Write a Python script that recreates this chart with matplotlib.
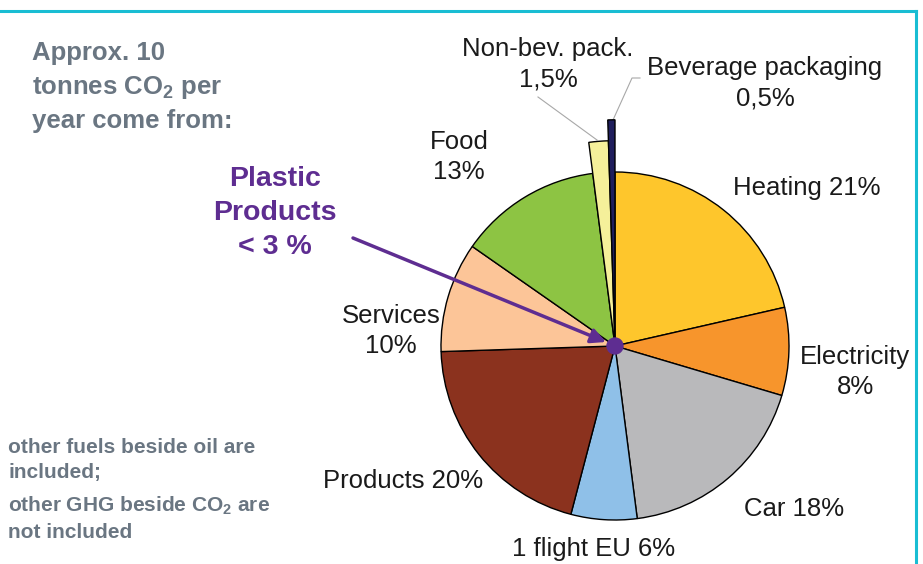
import matplotlib
matplotlib.use('Agg')
import matplotlib.pyplot as plt
from matplotlib.patches import Circle

# ---- data ----
categories = ['Heating', 'Electricity', 'Car', '1 flight EU', 'Products',
              'Services', 'Food', 'Non-bev. pack.', 'Beverage packaging']
values = [21, 8, 18, 6, 20, 10, 13, 1.5, 0.5]
value_labels = ['21%', '8%', '18%', '6%', '20%', '10%', '13%', '1,5%', '0,5%']
colors = ['#FEC62C', '#F7952C', '#B9B9BB', '#8FC0E8', '#8B321E',
          '#FCC598', '#8DC443', '#F5F09A', '#1F1E5C']

plt.rcParams['font.family'] = ['Liberation Sans', 'DejaVu Sans']
plt.rcParams['mathtext.fontset'] = 'custom'
plt.rcParams['mathtext.rm'] = 'Liberation Sans:bold'
plt.rcParams['mathtext.bf'] = 'Liberation Sans:bold'

W, H = 923, 564
fig = plt.figure(figsize=(W / 100, H / 100), dpi=100)
ax = fig.add_axes([0, 0, 1, 1])

def Y(py):
    return H - py

cx, cy, R = 615, Y(346), 174

wedges, _ = ax.pie(values, startangle=90, counterclock=False, center=(cx, cy),
                   radius=R, colors=colors,
                   wedgeprops=dict(edgecolor='black', linewidth=1.0))
wedges[7].set_radius(R * 1.18)
wedges[8].set_radius(R * 1.30)
wedges[7].set_zorder(3)
wedges[8].set_zorder(3)

ax.set_xlim(0, W)
ax.set_ylim(0, H)
ax.set_aspect('auto')
ax.axis('off')

lab_fs = 18.5
txt_col = '#1a1a1a'
lab_pos = {
    'Heating': (807, 188, 'Heating 21%'),
    'Electricity': (855, 372, 'Electricity\n8%'),
    'Car': (794, 509, 'Car 18%'),
    '1 flight EU': (594, 549, '1 flight EU 6%'),
    'Products': (403, 481, 'Products 20%'),
    'Services': (391, 331, 'Services\n10%'),
    'Food': (459, 157, 'Food\n13%'),
    'Non-bev. pack.': (548, 64, 'Non-bev. pack.\n1,5%'),
    'Beverage packaging': (765, 83, 'Beverage packaging\n0,5%'),
}
for c in categories:
    x, y, t = lab_pos[c]
    ax.text(x, Y(y), t, ha='center', va='center', fontsize=lab_fs,
            color=txt_col, linespacing=1.36)

# leader lines
lc = '#A8A8A8'
ax.plot([538, 597], [Y(97), Y(140)], color=lc, lw=0.8)
ax.plot([640, 632, 613], [Y(78), Y(78), Y(120)], color=lc, lw=0.8)

# plastic annotation
purple = '#5E2D91'
ax.text(275, Y(213), 'Plastic\nProducts\n< 3 %', ha='center', va='center',
        fontsize=20.5, fontweight='bold', color=purple, linespacing=1.4)
ax.annotate('', xy=(606, Y(342)), xytext=(353, Y(238)),
            arrowprops=dict(arrowstyle='-|>', color=purple, lw=2.5,
                            mutation_scale=22, shrinkA=0, shrinkB=0))
ax.add_patch(Circle((cx, cy), 8, color=purple, zorder=6))

# grey texts
grey = '#6A7682'
ax.text(32, Y(87), 'Approx. 10\ntonnes CO$_2$ per\nyear come from:', ha='left',
        va='center', fontsize=18.5, fontweight='bold', color=grey, linespacing=1.42)
ax.text(8, Y(460), 'other fuels beside oil are\nincluded;', ha='left', va='center',
        fontsize=15, fontweight='bold', color=grey, linespacing=1.45)
ax.text(8, Y(518), 'other GHG beside CO$_2$ are\nnot included', ha='left', va='center',
        fontsize=15, fontweight='bold', color=grey, linespacing=1.4)

# frame lines
fc = '#19BDD3'
ax.plot([0, 916], [Y(11), Y(11)], color=fc, lw=2.2, solid_capstyle='projecting')
ax.plot([916, 916], [Y(11), 0], color=fc, lw=2.2, solid_capstyle='projecting')

fig.savefig('out.png', dpi=100)
